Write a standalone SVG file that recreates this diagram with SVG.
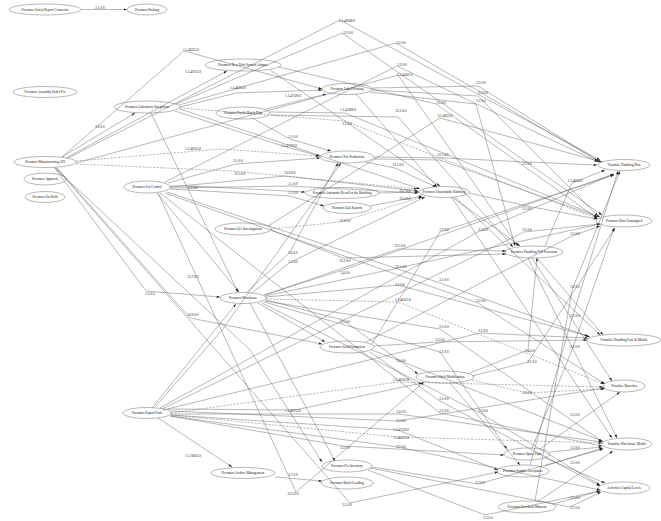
<svg xmlns="http://www.w3.org/2000/svg" width="661" height="521" viewBox="0 0 661 521">
<defs>
<marker id="a" markerUnits="userSpaceOnUse" markerWidth="4" markerHeight="3" refX="3.5" refY="1.2" orient="auto"><path d="M0,0 L3.5,1.2 L0,2.4 z" fill="#222"/></marker>
<style>
.e{fill:none;stroke:#555;stroke-width:0.42;marker-end:url(#a)}
.d{stroke-dasharray:2.2,1.3}
ellipse{fill:none;stroke:#555;stroke-width:0.42}
text{font-family:"Liberation Serif","Times New Roman",serif;font-size:3.4px;text-anchor:middle;fill:#111}
</style>
</defs>
<rect width="661" height="521" fill="#fff"/>
<g id="edges">
<polyline class="e" points="81,9.5 127,9.5"/><text x="100" y="8.5">2.1.0.0</text>
<polyline class="e" points="62,157 184,51 322,89"/><text x="191" y="51">1.1.46353.0</text>
<polyline class="e" points="66,158 227,71"/><text x="193" y="73">1.1.40753.0</text>
<polyline class="e" points="62,157 135,113"/><text x="100" y="128">2.0.0.0</text>
<polyline class="e" points="68,158 340,20 600,160"/><text x="347" y="22">1.1.46268.0</text>
<polyline class="e" points="176,104 342,33 602,215"/><text x="348" y="34">2.2.0.0</text>
<polyline class="e" points="179,105 396,43 598,161"/><text x="401" y="44">2.2.0.0</text>
<polyline class="e" points="180,107 236,93 322,90"/><text x="238" y="89">1.1.46353.0</text>
<polyline class="e" points="266,109 326,94"/><text x="293" y="97">1.1.47120.0</text>
<polyline class="e" points="165,182 397,66 598,162"/><text x="402" y="66">2.2.0.0</text>
<polyline class="e" points="76,163 398,75 518,246"/><text x="405" y="76">1.1.43621.0</text>
<polyline class="e" points="270,112 345,113 600,217"/><text x="348" y="111">1.1.45268.0</text>
<polyline class="e" points="270,115 398,117 513,247"/><text x="401" y="112">23.1.0.0</text>
<polyline class="e d" points="180,108 345,121 598,219"/><text x="347" y="125">2.2.0.0</text>
<polyline class="e" points="252,118 290,139 331,151"/><text x="293" y="138">2.1.0.0</text>
<polyline class="e" points="175,111 286,147 320,156"/><text x="289" y="147">1.1.47120.0</text>
<polyline class="e d" points="76,161 221,149 319,156"/><text x="193" y="150">1.1.46353.0</text>
<polyline class="e" points="168,183 236,164 320,158"/><text x="238" y="162">2.1.0.0</text>
<polyline class="e d" points="76,164 232,171 417,189"/><text x="240" y="175">23.1.0.0</text>
<polyline class="e" points="170,187 285,176 418,191"/><text x="290" y="174">23.0.0.0</text>
<polyline class="e" points="379,193 419,192"/><text x="405" y="192">23.7.0.0</text>
<polyline class="e" points="370,206 422,196"/><text x="405" y="200">23.0.0.0</text>
<polyline class="e" points="170,188 289,186 418,193"/><text x="293" y="185">1.1.0.0</text>
<polyline class="e" points="170,189 290,196 324,206"/><text x="293" y="194">1.1.0.0</text>
<polyline class="e" points="365,162 395,168 436,187"/><text x="398" y="166">23.1.0.0</text>
<polyline class="e" points="374,157 444,158 527,162 597,165"/><text x="527" y="165">2.2.0.0</text>
<polyline class="e" points="374,159 440,160 598,217"/><text x="443" y="156">23.1.0.0</text>
<polyline class="e" points="372,88 478,86 600,162"/><text x="481" y="84">2.2.0.0</text>
<polyline class="e" points="372,90 478,96 598,216"/><text x="483" y="94">2.2.0.0</text>
<polyline class="e" points="370,92 476,104 515,246"/><text x="481" y="102">2.2.0.0</text>
<polyline class="e" points="279,67 436,104 597,218"/><text x="441" y="104">2.2.0.0</text>
<polyline class="e" points="356,94 437,187"/>
<polyline class="e" points="268,226 440,118 602,162"/><text x="445" y="117">2.1.4623.0</text>
<polyline class="e" points="469,193 527,206 597,219"/><text x="527" y="210">2.2.0.0</text>
<polyline class="e" points="452,197 520,246"/>
<polyline class="e" points="151,113 238,292"/>
<polyline class="e" points="54,167 146,291 220,297"/><text x="150" y="295">2.2.0.0</text>
<polyline class="e" points="157,193 239,292"/><text x="193" y="278">23.7.0.0</text>
<polyline class="e" points="170,186 192,186 305,192"/><text x="193" y="189">2.2.0.0</text>
<polyline class="e" points="167,192 440,283 590,337"/><text x="444" y="281">2.2.0.0</text>
<polyline class="e" points="165,193 478,303 605,384"/><text x="481" y="302">2.2.0.0</text>
<polyline class="e d" points="271,229 340,222 422,197"/><text x="345" y="222">23.0.0.0</text>
<polyline class="e" points="247,292 290,252 338,163"/><text x="293" y="254">2.6.0.0</text>
<polyline class="e" points="252,293 289,263 425,197"/><text x="293" y="263">1.1.0.0</text>
<polyline class="e" points="155,407 222,330 341,163"/>
<polyline class="e" points="152,408 236,304"/>
<polyline class="e" points="265,295 398,249 506,251"/><text x="400" y="247">23.1.0.0</text>
<polyline class="e" points="271,230 343,258 506,254"/><text x="345" y="262">23.1.0.0</text>
<polyline class="e" points="264,295 343,270 614,174"/><text x="345" y="274">2.4.0.0</text>
<polyline class="e" points="265,296 398,268 600,224"/><text x="401" y="268">23.1.0.0</text>
<polyline class="e" points="266,297 398,285 588,336"/><text x="400" y="286">2.1.0.0</text>
<polyline class="e d" points="266,299 398,302 604,384"/><text x="403" y="301">1.1.46353.0</text>
<polyline class="e" points="265,301 440,329 603,442"/><text x="444" y="328">2.2.0.0</text>
<polyline class="e" points="264,302 440,352 507,449"/><text x="444" y="353">2.2.0.0</text>
<polyline class="e" points="258,303 325,342"/>
<polyline class="e" points="266,300 343,320 418,374"/><text x="345" y="323">2.5.0.0</text>
<polyline class="e" points="372,344 440,232 614,175"/><text x="444" y="231">2.7.0.0</text>
<polyline class="e" points="160,408 478,232 614,174"/><text x="483" y="231">2.5.0.0</text>
<polyline class="e" points="162,409 524,232 600,224"/><text x="527" y="231">2.2.0.0</text>
<polyline class="e" points="366,342 572,236 600,226"/><text x="575" y="235">2.2.0.0</text>
<polyline class="e" points="545,246 572,183 605,170"/><text x="575" y="182">1.1.4623.0</text>
<polyline class="e" points="535,501 572,290 620,171"/><text x="575" y="288">2.2.0.0</text>
<polyline class="e" points="530,465 572,318 618,171"/><text x="575" y="317">2.2.0.0</text>
<polyline class="e" points="532,448 572,350 614,228"/><text x="575" y="348">2.2.0.0</text>
<polyline class="e" points="163,410 480,333 588,338"/><text x="483" y="332">2.2.0.0</text>
<polyline class="e" points="374,346 437,342 587,340"/><text x="440" y="341">2.2.0.0</text>
<polyline class="e" points="470,373 528,350 537,258"/><text x="530" y="352">2.4.0.0</text>
<polyline class="e" points="472,376 528,362 615,228"/><text x="532" y="363">2.5.0.0</text>
<polyline class="e" points="372,350 398,360 602,441"/><text x="401" y="362">2.2.0.0</text>
<polyline class="e d" points="171,413 398,382 603,387"/><text x="401" y="381">1.1.46353.0</text>
<polyline class="e" points="168,409 295,410 422,383"/><text x="293" y="412">1.1.40753.0</text>
<polyline class="e d" points="472,380 527,393 604,389"/><text x="527" y="394">2.2.0.0</text>
<polyline class="e" points="450,383 520,465"/>
<polyline class="e" points="370,352 440,401 600,486"/><text x="444" y="400">2.3.0.0</text>
<polyline class="e" points="160,193 440,413 602,446"/><text x="444" y="412">2.2.0.0</text>
<polyline class="e" points="262,303 480,413 600,485"/><text x="483" y="412">2.3.0.0</text>
<polyline class="e" points="171,414 398,414 602,442"/><text x="401" y="413">2.4.0.0</text>
<polyline class="e" points="170,411 398,421 605,388"/><text x="401" y="422">2.5.0.0</text>
<polyline class="e" points="171,415 398,430 498,470"/><text x="401" y="431">1.1.47120.0</text>
<polyline class="e d" points="171,415 398,437 602,443"/><text x="401" y="439">1.1.46353.0</text>
<polyline class="e" points="170,416 398,447 600,490"/><text x="401" y="448">2.7.0.0</text>
<polyline class="e" points="170,416 343,446 504,455"/><text x="345" y="449">2.2.0.0</text>
<polyline class="e" points="158,418 232,467"/><text x="193" y="457">1.1.10625.0</text>
<polyline class="e" points="540,449 620,392"/><text x="575" y="416">2.5.0.0</text>
<polyline class="e" points="550,452 602,447"/><text x="575" y="449">2.2.0.0</text>
<polyline class="e" points="545,458 605,483"/><text x="575" y="464">2.2.0.0</text>
<polyline class="e" points="545,466 603,448"/>
<polyline class="e" points="553,504 575,498 600,491"/><text x="575" y="499">2.1.0.0</text>
<polyline class="e" points="370,468 570,507 601,492"/><text x="575" y="509">2.2.0.0</text>
<polyline class="e" points="537,502 613,451"/>
<polyline class="e" points="368,470 485,515 600,491"/><text x="488" y="519">2.3.0.0</text>
<polyline class="e" points="372,467 478,484 603,449"/><text x="480" y="484">2.7.0.0</text>
<polyline class="e" points="275,477 322,481"/><text x="293" y="476">2.2.0.0</text>
<polyline class="e" points="158,193 296,492 424,382"/><text x="293" y="495">23.3.0.0</text>
<polyline class="e" points="56,168 350,503 498,472"/><text x="347" y="506">2.3.0.0</text>
<polyline class="e" points="57,168 190,318 322,344"/><text x="193" y="316">23.0.0.0</text>
<polyline class="e" points="55,168 250,350 322,462"/>
<polyline class="e" points="537,258 603,335"/>
<polyline class="e" points="532,258 612,381"/>
<polyline class="e" points="528,258 617,438"/>
<polyline class="e" points="455,197 600,335"/>
<polyline class="e" points="452,198 612,438"/>
<polyline class="e" points="250,303 335,461"/>
<polyline class="e" points="180,109 420,189"/>
<polyline class="e" points="270,70 440,186"/>
</g>
<g id="n_safety"><ellipse cx="45" cy="9.5" rx="36" ry="5.5"/><text x="45" y="10.7">Proxmox Safety Report Connector</text></g>
<g id="n_packing"><ellipse cx="147" cy="9.5" rx="20" ry="5.5"/><text x="147" y="10.7">Proxmox Packing</text></g>
<g id="n_assembly"><ellipse cx="45" cy="92" rx="32" ry="5.5"/><text x="45" y="93.2">Proxmox Assembly Order Fix</text></g>
<g id="n_labint"><ellipse cx="147" cy="107" rx="33" ry="6"/><text x="147" y="108.2">Proxmox Laboratory Integration</text></g>
<g id="n_mfgapi"><ellipse cx="45" cy="162" rx="31" ry="5.5"/><text x="45" y="163.2">Proxmox Manufacturing API</text></g>
<g id="n_approval"><ellipse cx="45" cy="179" rx="21" ry="6"/><text x="45" y="180.2">Proxmox Approval</text></g>
<g id="n_onhold"><ellipse cx="45" cy="197" rx="20" ry="5.5"/><text x="45" y="198.2">Proxmox On Hold</text></g>
<g id="n_lotctl"><ellipse cx="147" cy="187" rx="23" ry="6"/><text x="147" y="188.2">Proxmox Lot Control</text></g>
<g id="n_newdrift"><ellipse cx="243" cy="65" rx="38" ry="6"/><text x="243" y="66.2">Proxmox New Drift System Adapter</text></g>
<g id="n_label"><ellipse cx="347" cy="89" rx="25" ry="5.5"/><text x="347" y="90.2">Proxmox Label Printing</text></g>
<g id="n_profile"><ellipse cx="243" cy="113" rx="27" ry="6"/><text x="243" y="114.2">Proxmox Profile/Batch Plan</text></g>
<g id="n_testprod"><ellipse cx="347" cy="157" rx="27" ry="6"/><text x="347" y="158.2">Proxmox Test Production</text></g>
<g id="n_recall"><ellipse cx="342" cy="193" rx="37" ry="5.5"/><text x="342" y="194.2">Proxmox Automatic Recall of the Batching</text></g>
<g id="n_labrep"><ellipse cx="347" cy="208" rx="24" ry="5.5"/><text x="347" y="209.2">Proxmox Lab Reports</text></g>
<g id="n_unavail"><ellipse cx="444" cy="192" rx="25" ry="5.5"/><text x="444" y="193.2">Proxmox Unavailable Batching</text></g>
<g id="n_qa"><ellipse cx="243" cy="229" rx="28" ry="6"/><text x="243" y="230.2">Proxmox QA Investigations</text></g>
<g id="n_hfe"><ellipse cx="534" cy="252" rx="29" ry="6"/><text x="534" y="253.2">Proxmox Handling Full Extension</text></g>
<g id="n_warehouse"><ellipse cx="243" cy="298" rx="23" ry="5.5"/><text x="243" y="299.2">Proxmox Warehouse</text></g>
<g id="n_hplan"><ellipse cx="624" cy="165" rx="26" ry="5.5"/><text x="624" y="166.2">Visualize Handling Plan</text></g>
<g id="n_bins"><ellipse cx="624" cy="221" rx="28" ry="6"/><text x="624" y="222.2">Proxmox Bins Unassigned</text></g>
<g id="n_hlots"><ellipse cx="624" cy="340" rx="37" ry="6"/><text x="624" y="341.2">Visualize Handling Lots In Mobile</text></g>
<g id="n_gold"><ellipse cx="347" cy="347" rx="27" ry="6"/><text x="347" y="348.2">Proxmox Gold Production</text></g>
<g id="n_shelf"><ellipse cx="445" cy="377" rx="29" ry="6"/><text x="445" y="378.2">Proxmox Shelf Modification</text></g>
<g id="n_barcodes"><ellipse cx="624" cy="386" rx="21" ry="6"/><text x="624" y="387.2">Visualize Barcodes</text></g>
<g id="n_export"><ellipse cx="147" cy="413" rx="24" ry="5.5"/><text x="147" y="414.2">Proxmox Export Pack</text></g>
<g id="n_whmobile"><ellipse cx="627" cy="444" rx="25" ry="6"/><text x="627" y="445.2">Visualize Warehouse Mobile</text></g>
<g id="n_spare"><ellipse cx="527" cy="454" rx="23" ry="6"/><text x="527" y="455.2">Proxmox Spare Parts</text></g>
<g id="n_archive"><ellipse cx="243" cy="473" rx="32" ry="5.5"/><text x="243" y="474.2">Proxmox Archive Management</text></g>
<g id="n_fixinv"><ellipse cx="347" cy="466" rx="25" ry="6"/><text x="347" y="467.2">Proxmox Fix Inventory</text></g>
<g id="n_batchload"><ellipse cx="347" cy="483" rx="26" ry="6"/><text x="347" y="484.2">Proxmox Batch Loading</text></g>
<g id="n_sample"><ellipse cx="523" cy="471" rx="26" ry="6"/><text x="523" y="472.2">Proxmox Sample Acceptance</text></g>
<g id="n_capital"><ellipse cx="624" cy="488" rx="26" ry="6"/><text x="624" y="489.2">Activities Capital Levels</text></g>
<g id="n_overhead"><ellipse cx="527" cy="507" rx="29" ry="6"/><text x="527" y="508.2">Proxmox Overhead Material</text></g>
</svg>
